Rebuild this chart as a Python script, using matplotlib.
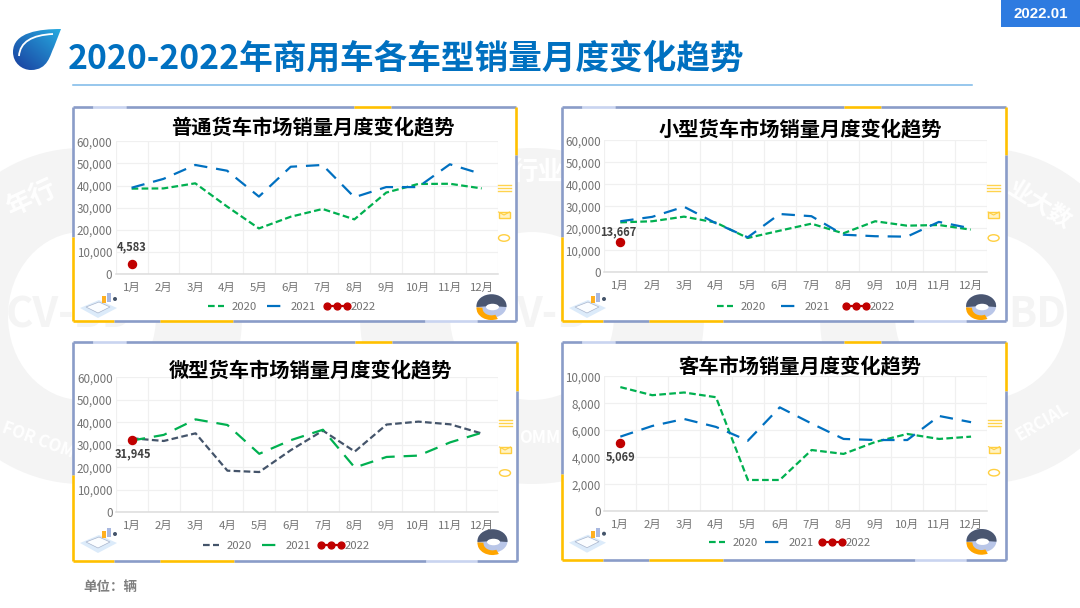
import numpy as np
import matplotlib
matplotlib.use("Agg")
import matplotlib.pyplot as plt
from matplotlib.legend_handler import HandlerLine2D
from matplotlib.patches import Ellipse, PathPatch, Polygon, Rectangle, Wedge
from matplotlib.path import Path
from matplotlib.ticker import StrMethodFormatter
from matplotlib.transforms import Affine2D

plt.rcParams['font.family'] = ['Noto Sans CJK SC', 'DejaVu Sans']

months = ['1月','2月','3月','4月','5月','6月','7月','8月','9月','10月','11月','12月']
legend_years = ['2020', '2021', '2022']
main_title = '2020-2022年商用车各车型销量月度变化趋势'
date_label = '2022.01'
unit_label = '单位：辆'

titles = ['普通货车市场销量月度变化趋势', '小型货车市场销量月度变化趋势',
          '微型货车市场销量月度变化趋势', '客车市场销量月度变化趋势']

truck_2020 = [38600,38700,41000,30500,20600,25900,29400,24700,36800,40700,40800,38700]
truck_2021 = [39000,43000,49300,46700,35000,48500,49300,34700,39300,39300,49600,45200]
truck_2022 = 4583

small_2020 = [22700,23200,25300,22600,15600,18900,22100,17700,23200,21200,21500,19400]
small_2021 = [23200,25200,29800,22300,15900,26500,25500,17100,16400,16200,22900,20000]
small_2022 = 13667

mini_2020 = [32900,31700,35100,18500,17900,27700,36300,27000,39000,40300,39100,35000]
mini_2021 = [31900,34400,41300,38800,26000,32100,36700,19900,24600,25200,31100,35400]
mini_2022 = 31945

bus_2020 = [9200,8600,8800,8450,2320,2320,4540,4250,5140,5730,5360,5530]
bus_2021 = [5530,6320,6840,6250,5230,7700,6500,5360,5280,5280,7060,6600]
bus_2022 = 5069

GREEN, BLUE, SLATE, RED = '#00b050', '#0070c0', '#44546a', '#c00000'
YEL, FR, PALE = '#ffc000', '#8a9cc8', '#c9d4f0'
GREY = '#737373'
LATIN_CJK = ['Liberation Sans', 'Noto Sans CJK SC']
W, H = 1080, 608

fig = plt.figure(figsize=(W/100, H/100), dpi=100, facecolor='white')
bg = fig.add_axes([0, 0, 1, 1], zorder=0)
bg.set_xlim(0, W); bg.set_ylim(H, 0); bg.axis('off')


def axrect(x0, x1, y0, y1):
    return [x0/W, 1 - y1/H, (x1 - x0)/W, (y1 - y0)/H]


class WideLine(HandlerLine2D):
    """Legend key for the marker series, wider than the dashed keys."""
    def create_artists(self, legend, orig_handle, xdescent, ydescent, width, height,
                       fontsize, trans):
        return super().create_artists(legend, orig_handle, xdescent, ydescent,
                                       width*1.2, height, fontsize, trans)


# ---- watermark rings
WM = '#f4f4f4'
for cx, ro, ri in [(82, 160, 74), (532, 172, 82), (981, 161, 86)]:
    bg.add_patch(Ellipse((cx, 316), 2*ro, 336, fc=WM, ec='none', zorder=1))
    bg.add_patch(Ellipse((cx, 316), 2*ri, 168, fc='white', ec='none', zorder=1.1))
for x, y, s, r, c, fs, ha in [
    (32, 198, '年行', 25, 'white', 19, 'center'), (6, 315, 'CV-BD', 0, WM, 30, 'left'),
    (38, 440, 'FOR COM', -20, 'white', 12, 'center'),
    (538, 172, '行业', 0, 'white', 19, 'center'), (516, 315, 'V-B', 0, WM, 30, 'left'),
    (540, 438, 'OMM', 0, 'white', 12, 'center'),
    (1040, 205, '业大数', -32, 'white', 17, 'center'), (1008, 315, 'BD', 0, WM, 30, 'left'),
    (1042, 422, 'ERCIAL', 30, 'white', 12, 'center')]:
    bg.text(x, y, s, rotation=r, color=c, fontsize=fs, fontweight='bold',
            ha=ha, va='center', zorder=1.2, rotation_mode='anchor')

# ---- header
bg.add_patch(Rectangle((1001, 0), 79, 27, fc='#2e7be0', ec='none', zorder=3))
bg.text(1040.5, 14.5, date_label, color='white', fontsize=10.8, fontweight='bold',
        family=LATIN_CJK, ha='center', va='center', zorder=4)
bg.text(68, 59.5, main_title, color=BLUE, fontsize=24.25, fontweight='bold',
        ha='left', va='center', zorder=4)
bg.plot([73, 972], [84.5, 84.5], color='#7ab8e8', lw=1.1, zorder=3)
bg.text(83, 586.5, unit_label, color='#7f7f7f', fontsize=9.7, fontweight='bold',
        ha='left', va='center', zorder=4)

# ---- logo
verts = [(61, 29), (40, 29), (13, 32), (13, 52), (13, 63), (22, 70), (31, 70),
         (48, 70), (50, 55), (54, 47), (61, 29), (61, 29)]
codes = [Path.MOVETO] + [Path.CURVE4]*9 + [Path.LINETO, Path.CLOSEPOLY]
drop = PathPatch(Path(verts, codes), fc='none', ec='none', transform=bg.transData)
bg.add_patch(drop)
u, v = np.meshgrid(np.linspace(0, 1, 60), np.linspace(0, 1, 60))
t = np.clip((u + v)/2, 0, 1)
c0, c1 = np.array([0.10, 0.24, 0.62]), np.array([0.15, 0.67, 0.88])
grad = c0[None, None, :]*(1 - t[..., None]) + c1[None, None, :]*t[..., None]
im = bg.imshow(grad, extent=(13, 61, 70, 29), origin='lower', aspect='auto', zorder=3)
im.set_clip_path(drop)
bg.set_xlim(0, W); bg.set_ylim(H, 0)
bg.add_patch(PathPatch(Path([(19, 56), (20, 42), (32, 35), (53, 34)],
                            [Path.MOVETO, Path.CURVE4, Path.CURVE4, Path.CURVE4]),
                       fc='none', ec='white', lw=1.3, zorder=4))


# ---- frame and small decorations
def segs(a, b, stops, cols, horizontal, fixed):
    pts = [0] + stops + [1]
    for i, c in enumerate(cols):
        p, q = a + (b - a)*pts[i], a + (b - a)*pts[i + 1]
        xs, ys = ([p, q], [fixed, fixed]) if horizontal else ([fixed, fixed], [p, q])
        bg.plot(xs, ys, color=c, lw=1.9, solid_capstyle='butt', zorder=6)


def frame(x0, x1, y0, y1):
    bg.add_patch(Rectangle((x0, y0), x1 - x0, y1 - y0, fc='white', ec='none', zorder=2))
    segs(x0, x1, [.045, .119, .635, .718], [FR, PALE, FR, YEL, FR], True, y0)
    segs(y0, y1, [.225], [YEL, FR], False, x1)
    segs(y0, y1, [.607], [FR, YEL], False, x0)
    segs(x0, x1, [.092, .196, .362, .794, .911], [YEL, FR, YEL, FR, PALE, FR], True, y1)
    # right-hand toolbox icons
    ix = x1 - 12
    for dy in (78, 81, 84):
        bg.plot([ix - 6.5, ix + 6.5], [y0 + dy, y0 + dy], color='#ffd34d', lw=1, zorder=4)
    bg.add_patch(Rectangle((ix - 5.5, y0 + 105), 11, 6, fc='#fff3c4', ec='#ffcf40', lw=1, zorder=4))
    bg.plot([ix - 5.5, ix, ix + 5.5], [y0 + 105, y0 + 108, y0 + 105], color='#ffcf40', lw=.8, zorder=5)
    bg.add_patch(Ellipse((ix, y0 + 131), 11, 6.5, fc='white', ec='#ffcf40', lw=1, zorder=4))
    # donut illustration
    dx, dy = x1 - 24.5, y0 + 199
    squash = Affine2D().scale(1, 0.78).translate(dx, dy) + bg.transData
    bg.add_patch(Wedge((0, 0), 15, 0, 360, fc='#b9c6e8', ec='none', zorder=4, transform=squash))
    bg.add_patch(Wedge((0, 0), 15, 175, 365, fc='#4a5670', ec='none', zorder=4.2, transform=squash))
    bg.add_patch(Wedge((0, 3), 15, 65, 185, width=6, fc='#ffa500', ec='none', zorder=4.3, transform=squash))
    bg.add_patch(Ellipse((dx + 1, dy + 1), 13, 6.5, fc='white', ec='none', zorder=4.4))
    # isometric illustration
    lx, ly = x0 + 7, y0 + 185
    bg.add_patch(Polygon([(lx, ly + 16), (lx + 19, ly + 8), (lx + 37, ly + 16), (lx + 18, ly + 26)],
                         fc='#dcebfa', ec='none', zorder=4))
    bg.add_patch(Polygon([(lx + 6, ly + 15), (lx + 19, ly + 10), (lx + 30, ly + 15), (lx + 18, ly + 21)],
                         fc='#fbfdff', ec='#a9b5cc', lw=.5, zorder=4.1))
    bg.add_patch(Rectangle((lx + 22, ly + 4), 3.5, 7, fc='#ffb020', ec='none', zorder=4.2))
    bg.add_patch(Rectangle((lx + 27, ly + 1), 4, 9, fc='#a8b8e0', ec='none', zorder=4.2))
    bg.add_patch(Ellipse((lx + 35, ly + 7), 4, 4, fc='#44546a', ec='none', zorder=4.2))


# ---- one chart panel
def panel(fr, box, title, tpos, s20, s21, v22, c20, c21, ymax, step,
          lab, leg, colsp):
    frame(*fr)
    ax = fig.add_axes(axrect(*box), zorder=3)
    ax.patch.set_alpha(0)
    ax.text(tpos[0], tpos[1], title, transform=bg.transData, color='black',
            fontsize=14.6, fontweight='bold', ha='center', va='center', zorder=10,
            clip_on=False)
    x = np.arange(12) + 0.5
    ax.plot(x, s20, color=c20, lw=1.6, ls=(0, (3, 1.5)), label=legend_years[0], zorder=3)
    ax.plot(x, s21, color=c21, lw=1.6, ls=(0, (6, 4)), label=legend_years[1], zorder=3)
    key22, = ax.plot(x[:1], [v22], color=RED, lw=1.6, marker='o', ms=5.8,
                     label=legend_years[2], zorder=4)
    ax.annotate(f'{v22:,}', (x[0], v22), xytext=lab, textcoords='offset pixels',
                ha='center', va='center', fontsize=8, fontweight='bold', color='#404040',
                zorder=5)
    ax.set_xlim(0, 12); ax.set_ylim(0, ymax)
    ax.set_xticks(x, months)
    ax.set_yticks(np.arange(0, ymax + 1, step))
    ax.yaxis.set_major_formatter(StrMethodFormatter('{x:,.0f}'))
    ax.set_xticks(np.arange(13), minor=True)
    ax.grid(True, which='minor', axis='x', color='#f0f0f0', lw=.9)
    ax.grid(True, which='major', axis='y', color='#f0f0f0', lw=.9)
    ax.set_axisbelow(True)
    ax.tick_params(which='both', length=0)
    ax.tick_params(axis='x', labelsize=8.2, labelcolor=GREY, pad=6.5)
    ax.tick_params(axis='y', labelsize=8.4, labelcolor=GREY, pad=2.5)
    for k, sp in ax.spines.items():
        sp.set_visible(k == 'bottom')
    ax.spines['bottom'].set_color('#dcdcdc')
    ax.spines['bottom'].set_linewidth(1.1)
    ax.legend(loc='center', bbox_to_anchor=(leg[0]/W, 1 - leg[1]/H),
              bbox_transform=fig.transFigure, ncol=3, frameon=False, fontsize=8.2,
              labelcolor=GREY, handlelength=2.0, handletextpad=0.4,
              columnspacing=colsp, numpoints=3, markerscale=0.85, borderpad=0,
              borderaxespad=0, handler_map={key22: WideLine()})


panel((73, 516, 107, 321), (115.7, 497.6, 141.3, 274), titles[0], (313, 127),
      truck_2020, truck_2021, truck_2022, GREEN, BLUE, 60000, 10000,
      (0, 17), (290, 307), 0.6)
panel((562, 1005.6, 107, 321), (604.4, 986.6, 140.3, 272.3), titles[1], (800, 128.5),
      small_2020, small_2021, small_2022, GREEN, BLUE, 60000, 10000,
      (-2, 10), (804, 307), 1.05)
panel((73, 517, 342, 560.7), (116, 498, 377.3, 512.3), titles[2], (311, 369.5),
      mini_2020, mini_2021, mini_2022, SLATE, GREEN, 60000, 10000,
      (1, -13), (284.5, 545.7), 0.55)
panel((562, 1006, 341.7, 560), (604.4, 987, 376.3, 511.3), titles[3], (800, 366),
      bus_2020, bus_2021, bus_2022, GREEN, BLUE, 10000, 2000,
      (0, -14), (788, 542.7), 0.35)

fig.savefig('out.png', dpi=100, facecolor='white')
